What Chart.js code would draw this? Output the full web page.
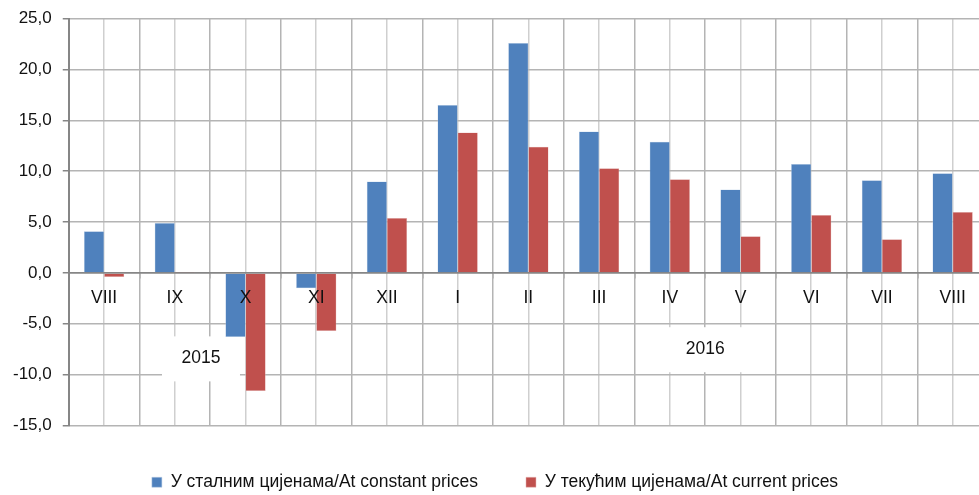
<!DOCTYPE html>
<html>
<head>
<meta charset="utf-8">
<script src="https://cdn.jsdelivr.net/npm/chart.js@4.4.0/dist/chart.umd.min.js"></script>
<style>
  html, body { margin: 0; padding: 0; background: #fff; overflow: hidden; }
  #wrap { width: 979px; height: 495px; overflow: hidden; }
</style>
</head>
<body>
<div id="wrap"><canvas id="myChart" width="990" height="495"></canvas></div>
<script>
const months = ["VIII", "IX", "X", "XI", "XII", "I", "II", "III", "IV", "V", "VI", "VII", "VIII"];
const constantPrices = [4.1, 4.9, -6.3, -1.5, 9.0, 16.5, 22.6, 13.9, 12.9, 8.2, 10.7, 9.1, 9.8];
const currentPrices = [-0.4, 0.1, -11.6, -5.7, 5.4, 13.8, 12.4, 10.3, 9.2, 3.6, 5.7, 3.3, 6.0];
const seriesNames = ["У сталним цијенама/At constant prices", "У текућим цијенама/At current prices"];
const yearLabels = ["2015", "2016"];
const yearIndex = [1.37, 8.5];
const yearValue = [-8.4, -7.5];

const FONT = "'Liberation Sans', Arial, sans-serif";

// white boxes with the year text, drawn over the grid but under the bars
const yearBoxes = {
  id: "yearBoxes",
  beforeDatasetsDraw(chart) {
    const ctx = chart.ctx;
    const x = chart.scales.x;
    const y = chart.scales.y;
    const widths = [78, 136];
    ctx.save();
    ctx.font = "17.5px " + FONT;
    ctx.textAlign = "center";
    ctx.textBaseline = "middle";
    for (let i = 0; i < yearLabels.length; i++) {
      const cx = x.getPixelForValue(yearIndex[i]);
      const cy = y.getPixelForValue(yearValue[i]);
      ctx.fillStyle = "#fff";
      ctx.fillRect(cx - widths[i] / 2, cy - 22, widths[i], 45);
      ctx.fillStyle = "#111";
      ctx.fillText(yearLabels[i], cx, cy);
    }
    ctx.restore();
  },
};

function myLoadFunction() {
  const ctx = document.getElementById("myChart").getContext("2d");
  var myChartConfig = {
    type: "bar",
    data: {
      labels: months,
      datasets: [
        {
          label: seriesNames[0],
          data: constantPrices,
          backgroundColor: "#4f81bd",
          borderColor: "#b9cde5",
          borderWidth: 0.5,
          categoryPercentage: 0.57,
          barPercentage: 1.0,
        },
        {
          label: seriesNames[1],
          data: currentPrices,
          backgroundColor: "#c0504d",
          borderColor: "#e6b9b8",
          borderWidth: 0.5,
          categoryPercentage: 0.57,
          barPercentage: 1.0,
        },
      ],
    },
    options: {
      responsive: false,
      animation: false,
      layout: { padding: { top: 0, right: 2, left: 2, bottom: -6 } },
      plugins: {
        legend: {
          position: "bottom",
          labels: {
            boxWidth: 10,
            boxHeight: 10,
            padding: 48,
            color: "#111",
            font: { family: FONT, size: 17.5 },
          },
        },
        tooltip: { enabled: false },
      },
      scales: {
        // labels and tick marks on the zero line, above the bars
        x: {
          position: { y: 0 },
          offset: true,
          grid: {
            offset: true,
            drawOnChartArea: false,
            tickColor: "#868686",
            tickLength: 5,
            lineWidth: 1.5,
          },
          border: { color: "#868686", width: 1.5 },
          ticks: {
            z: 1,
            color: "#111",
            padding: 10,
            font: { family: FONT, size: 17.5 },
            maxRotation: 0,
            autoSkip: false,
          },
        },
        // vertical lines between the months
        x2: {
          type: "category",
          labels: months,
          position: "bottom",
          offset: true,
          grid: { offset: true, color: "#b4b4b4", lineWidth: 1.5, drawTicks: false },
          border: { display: false },
          ticks: { display: false },
        },
        // vertical lines through the middle of each month
        x3: {
          type: "category",
          labels: months,
          position: "bottom",
          offset: true,
          grid: { offset: false, color: "#cfcfcf", lineWidth: 1.5, drawTicks: false },
          border: { display: false },
          ticks: { display: false },
        },
        y: {
          min: -15,
          max: 25,
          ticks: {
            stepSize: 5,
            color: "#111",
            padding: 11,
            font: { family: FONT, size: 17, lineHeight: 0.9 },
            callback: (v) => v.toFixed(1).replace(".", ","),
          },
          grid: {
            color: (c) => (c.tick && c.tick.value === 0 ? "#868686" : "#b4b4b4"),
            lineWidth: 1.5,
            tickColor: "#868686",
            tickLength: 6,
          },
          border: { color: "#868686", width: 2 },
        },
      },
    },
    plugins: [yearBoxes],
  };
  const myChart = new Chart(ctx, myChartConfig);
}

document.addEventListener("DOMContentLoaded", myLoadFunction);
</script>
</body>
</html>
